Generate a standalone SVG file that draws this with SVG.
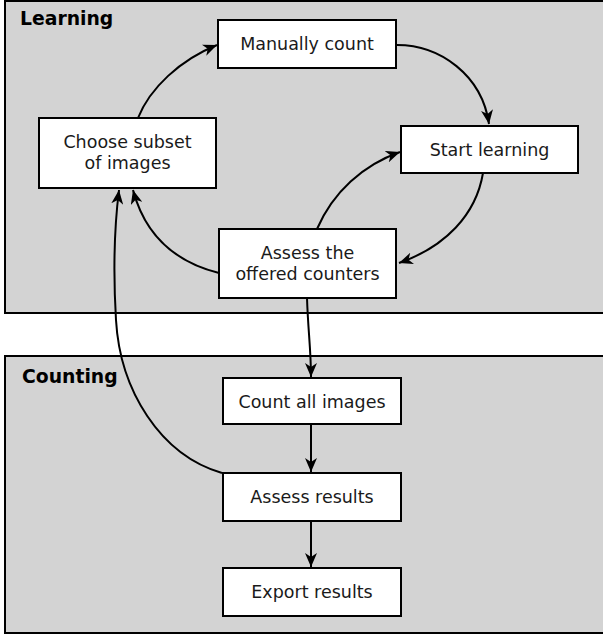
<svg xmlns="http://www.w3.org/2000/svg" width="603" height="637" viewBox="0 0 603 637">
<style>
.grp{fill:#d3d3d3;stroke:#000;stroke-width:2}
.node{fill:#fff;stroke:#000;stroke-width:2}
.t{font-family:"DejaVu Sans",sans-serif;font-size:17.5px;fill:#1a1a1a;text-anchor:middle}
.gl{font-family:"DejaVu Sans",sans-serif;font-size:18.8px;font-weight:bold;fill:#000}
.c{fill:none;stroke:#000;stroke-width:2;marker-end:url(#ah)}
</style>
<defs>
<marker id="ah" markerUnits="userSpaceOnUse" markerWidth="16" markerHeight="12" refX="14" refY="6" orient="auto" viewBox="0 0 16 12">
<path d="M0,0 L14,6 L0,12 L4,6 z" fill="#000"/>
</marker>
</defs>
<rect width="603" height="637" fill="#fff"/>
<g id="learning">
<rect class="grp" x="5" y="1" width="605" height="312"/>
<text class="gl" x="20" y="25">Learning</text>
</g>
<g id="counting">
<rect class="grp" x="5" y="356" width="605" height="277"/>
<text class="gl" x="22" y="383">Counting</text>
</g>
<g id="connectors">
<path class="c" d="M138,118 C150,88 180,60 217,45"/>
<path class="c" d="M397,45 C440,45 482,75 489,124"/>
<path class="c" d="M483,173 C476,215 445,247 399,263"/>
<path class="c" d="M317,229 C333,192 363,165 400,152"/>
<path class="c" d="M219,273 C175,262 145,235 133,190"/>
<path class="c" d="M222,473 C160,455 120,390 116,320 C113,270 114,230 119,190"/>
<path class="c" d="M307,298 C308,330 311,350 311,377"/>
<path class="c" d="M311,424 L311,472"/>
<path class="c" d="M311,521 L311,567"/>
</g>
<g id="manually-count">
<rect class="node" x="218" y="20" width="178" height="48"/>
<text class="t" x="307" y="50">Manually count</text>
</g>
<g id="choose-subset">
<rect class="node" x="39" y="118" width="177" height="70"/>
<text class="t" x="127.5" y="148">Choose subset</text>
<text class="t" x="127.5" y="169">of images</text>
</g>
<g id="start-learning">
<rect class="node" x="401" y="126" width="177" height="47"/>
<text class="t" x="489.5" y="156">Start learning</text>
</g>
<g id="assess-counters">
<rect class="node" x="219" y="229" width="177" height="69"/>
<text class="t" x="307.5" y="259">Assess the</text>
<text class="t" x="307.5" y="280">offered counters</text>
</g>
<g id="count-all">
<rect class="node" x="223" y="378" width="178" height="46"/>
<text class="t" x="312" y="408">Count all images</text>
</g>
<g id="assess-results">
<rect class="node" x="223" y="473" width="178" height="48"/>
<text class="t" x="312" y="503">Assess results</text>
</g>
<g id="export-results">
<rect class="node" x="223" y="568" width="178" height="48"/>
<text class="t" x="312" y="598">Export results</text>
</g>
</svg>
